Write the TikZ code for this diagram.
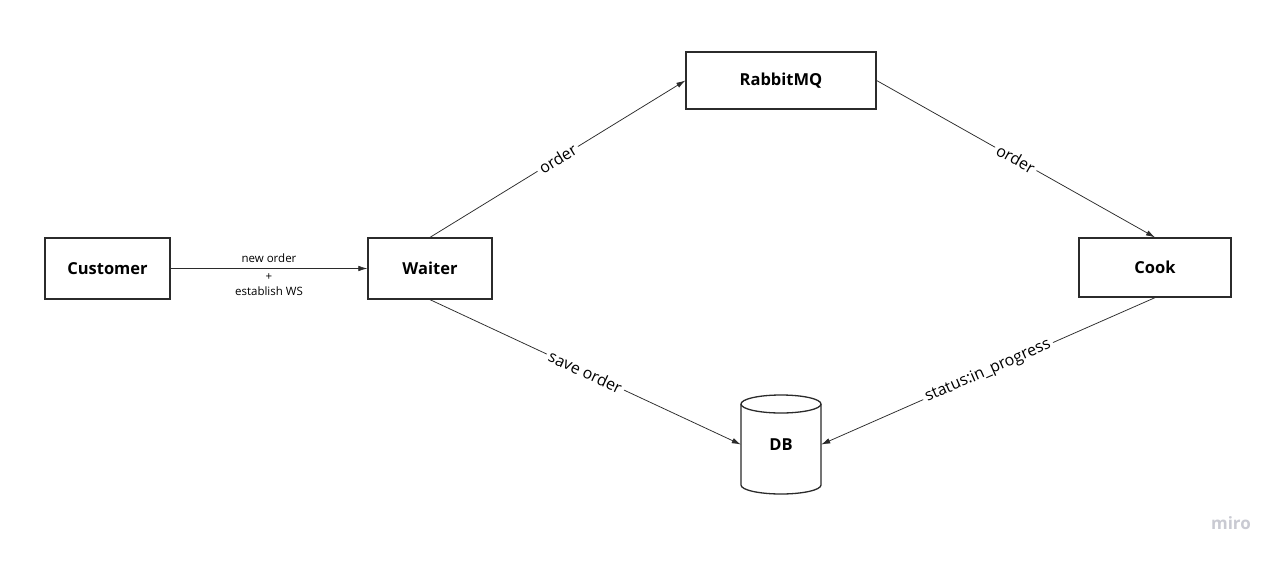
\documentclass[tikz,border=0pt]{standalone}
\usepackage{fontspec}
\setmainfont{Open Sans}
\usetikzlibrary{arrows.meta}
\definecolor{edgegray}{HTML}{2B2B2B}
\definecolor{logogray}{HTML}{C9CAD2}
\tikzset{
  service/.style={draw=edgegray, line width=1.3pt, fill=white, font=\bfseries\fontsize{16.5}{19}\selectfont, inner sep=0pt},
  store/.style={font=\bfseries\fontsize{16.5}{19}\selectfont, inner sep=0pt, minimum width=80pt, minimum height=100pt},
  storeline/.style={draw=edgegray, line width=1.3pt},
  flow/.style={draw=edgegray, line width=0.75pt, -{Latex[length=9pt,width=5.5pt]}},
  flowlabel/.style={midway, sloped, fill=white, inner sep=3pt, font=\fontsize{16}{19}\selectfont}
}
\begin{document}
\begin{tikzpicture}[x=1pt,y=-1pt]
    \useasboundingbox (0,0) rectangle (1280,560);
    \fill [white] (0,0) rectangle (1280,560);
    % services
    \node [service, minimum width=125pt, minimum height=61pt] (customer) at (107.5,268.5) {Customer};
    \node [service, minimum width=124pt, minimum height=61pt] (waiter) at (430,268.5) {Waiter};
    \node [service, minimum width=190pt, minimum height=57pt] (rabbit) at (781,80.5) {RabbitMQ};
    \node [service, minimum width=152pt, minimum height=59pt] (cook) at (1155,267.5) {Cook};
    % database cylinder
    \draw [storeline, fill=white] (741,404) -- (741,485)
        arc [start angle=180, end angle=360, x radius=40pt, y radius=9pt] -- (821,404)
        arc [start angle=0, end angle=180, x radius=40pt, y radius=9pt] -- cycle;
    \draw [storeline] (741,404) arc [start angle=180, end angle=360, x radius=40pt, y radius=9pt];
    \node [store] (db) at (781,444.5) {DB};
    % flows
    \draw [flow] (customer) -- (waiter)
        node [midway, above=2pt, font=\fontsize{11.5}{14}\selectfont, align=center] {new order}
        node [midway, below=1pt, font=\fontsize{11.5}{14}\selectfont, align=center] {+\\[1pt]establish WS};
    \draw [flow] (waiter.north) -- (rabbit.west) node [flowlabel] {order};
    \draw [flow] (rabbit.east) -- (cook.north) node [flowlabel] {order};
    \draw [flow] (waiter.south) -- (db.west) node [flowlabel] {save order};
    \draw [flow] (cook.south) -- (db.east) node [flowlabel] {status:in\_progress};
    % watermark
    \node [text=logogray, font=\bfseries\fontsize{17}{20}\selectfont] (logo) at (1231,523) {miro};
\end{tikzpicture}
\end{document}
